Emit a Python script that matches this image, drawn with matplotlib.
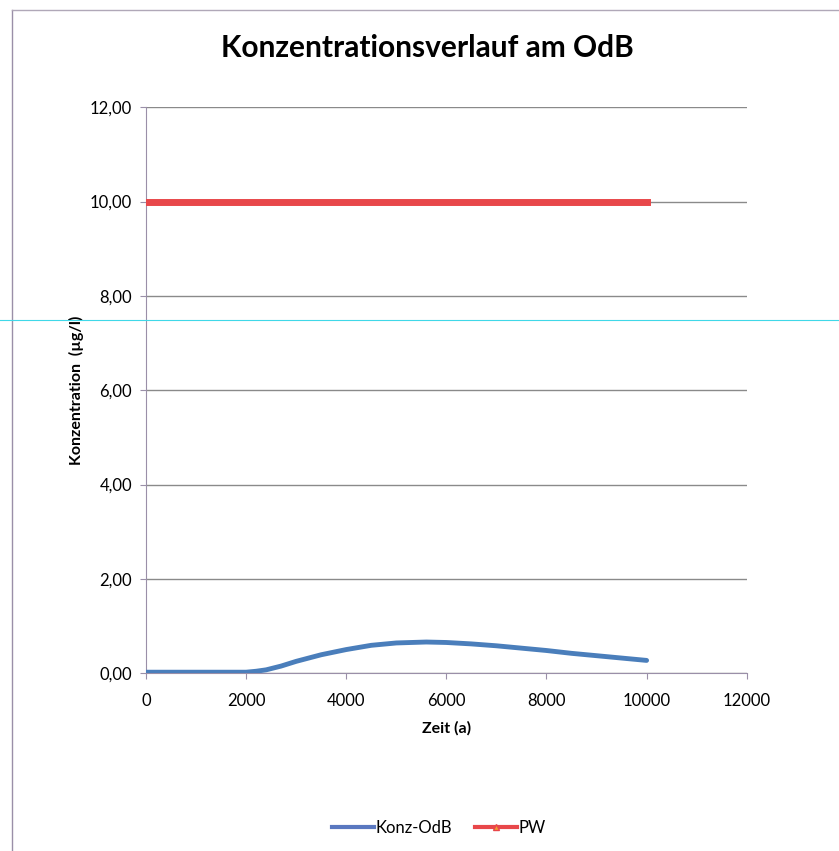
import numpy as np
import matplotlib.pyplot as plt
from matplotlib.lines import Line2D
from matplotlib.ticker import FuncFormatter

plt.rcParams['font.family'] = ['Lato', 'DejaVu Sans']

# data
zeit = [0, 500, 1000, 1500, 2000, 2200, 2400, 2700, 3000, 3500, 4000, 4500, 5000, 5600, 6000, 6500, 7000, 7500, 8000, 8500, 9000, 9500, 10000]
konz_odb = [0.02, 0.02, 0.02, 0.02, 0.02, 0.04, 0.07, 0.15, 0.25, 0.39, 0.5, 0.59, 0.64, 0.66, 0.65, 0.62, 0.58, 0.53, 0.48, 0.42, 0.37, 0.32, 0.27]
pw_zeit = [0, 10000]
pw = [10.0, 10.0]

fig = plt.figure(figsize=(8.39, 8.51), dpi=100)
ax = fig.add_axes([0.174, 0.209, 0.716, 0.665])

ax.plot(zeit, konz_odb, color='#4a7ebb', lw=3.5, solid_capstyle='round', zorder=3)
ax.plot(pw_zeit, pw, color='#e8474a', lw=5, zorder=3)

ax.set_xlim(0, 12000)
ax.set_ylim(0, 12)
ax.set_xticks(range(0, 12001, 2000))
ax.set_yticks(range(0, 13, 2))
ax.yaxis.set_major_formatter(FuncFormatter(lambda v, p: f"{v:.2f}".replace('.', ',')))
ax.grid(axis='y', color='#8a8a8a', lw=1)
ax.set_axisbelow(True)
for s in ['top', 'right']:
    ax.spines[s].set_visible(False)
for s in ['left', 'bottom']:
    ax.spines[s].set_color('#9a8fa8')
ax.tick_params(length=4, color='#9a8fa8', labelsize=12, pad=6)
ax.tick_params(axis='x', pad=10)

fig.text(0.509, 0.944, 'Konzentrationsverlauf am OdB', fontsize=21.5, fontweight='bold', ha='center', va='center')
ax.set_xlabel('Zeit (a)', fontsize=11.5, fontweight='bold', labelpad=9)
ax.set_ylabel('Konzentration  (µg/l)', fontsize=11.5, fontweight='bold', labelpad=4)

handles = [Line2D([], [], color='#5a78c0', lw=3),
           Line2D([], [], color='#e8474a', lw=3, marker='^', markersize=4, markerfacecolor='#f0a030')]
fig.legend(handles, ['Konz-OdB', 'PW'], loc='center', bbox_to_anchor=(0.523, 0.027),
           ncol=2, frameon=False, fontsize=12, handlelength=2.5, handletextpad=0.1, columnspacing=1.4)

# scan frame and artifact
fig.add_artist(Line2D([0.014, 0.014], [0, 0.988], color='#9a8fa8', lw=1))
fig.add_artist(Line2D([0.014, 1.0], [0.988, 0.988], color='#b0a8b8', lw=1))
fig.add_artist(Line2D([0, 1], [0.624, 0.624], color='#40d8e8', lw=0.8))

fig.savefig('out.png', dpi=100)
